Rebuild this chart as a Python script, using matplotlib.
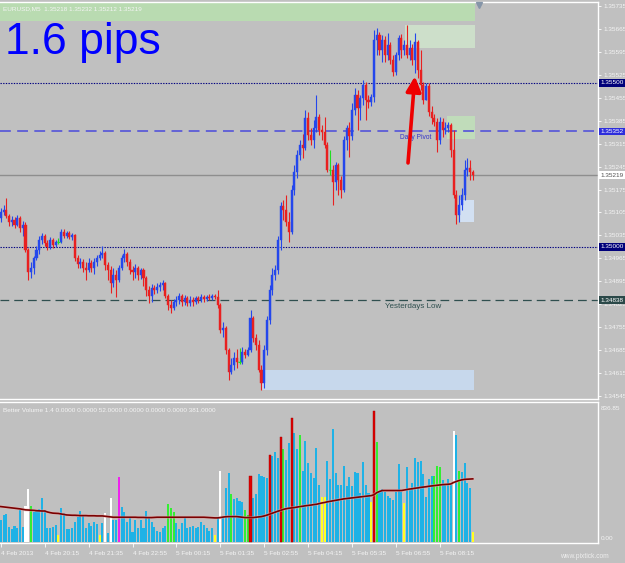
import numpy as np
import matplotlib
matplotlib.use("Agg")
import matplotlib.pyplot as plt
import matplotlib.transforms as mtransforms

# ---------------- data (prices in points = price * 1e5) ----------------
first_open_pts = 135088
close_pts = [135106,135112,135094,135076,135082,135067,135088,135058,135067,134990,
             134923,134936,134966,134990,135021,135033,135012,135000,135021,135006,
             135015,135015,135045,135033,135042,135030,135036,134966,134948,134954,
             134936,134929,134951,134936,134954,134966,134975,134981,134945,134929,
             134890,134914,134899,134936,134966,134978,134954,134929,134923,134936,
             134914,134929,134905,134868,134850,134875,134868,134878,134884,134890,
             134850,134823,134814,134832,134838,134850,134832,134844,134829,134838,
             134832,134844,134838,134847,134841,134847,134844,134850,134847,134823,
             134746,134753,134685,134618,134640,134661,134649,134649,134679,134670,
             134685,134783,134722,134701,134624,134585,134685,134777,134868,134914,
             134929,135021,135125,135112,135076,135045,135173,135228,135280,135311,
             135302,135393,135341,135326,135363,135396,135356,135350,135311,135234,
             135234,135198,135250,135204,135173,135326,135363,135338,135417,135463,
             135424,135454,135494,135448,135442,135457,135631,135646,135600,135631,
             135585,135616,135570,135533,135585,135637,135600,135616,135585,135607,
             135570,135625,135539,135494,135448,135491,135411,135393,135381,135326,
             135381,135356,135363,135372,135295,135158,135097,135128,135158,135234,
             135241,135228,135219]
high_pts = [135119,135128,135149,135100,135094,135091,135097,135094,135079,135076,
            134997,134954,134972,135003,135033,135042,135039,135021,135030,135027,
            135021,135027,135055,135055,135048,135048,135042,135039,134975,134966,
            134963,134954,134966,134960,134966,134975,134987,135003,134987,134954,
            134942,134936,134929,134945,134975,134994,134984,134963,134942,134948,
            134942,134936,134936,134911,134881,134887,134884,134890,134893,134899,
            134893,134856,134838,134841,134850,134859,134856,134853,134850,134850,
            134847,134850,134850,134856,134853,134853,134856,134856,134856,134868,
            134829,134771,134759,134692,134661,134679,134689,134692,134695,134689,
            134695,134807,134789,134734,134716,134640,134701,134789,134884,134936,
            134945,135033,135137,135143,135158,135106,135189,135250,135295,135326,
            135344,135417,135411,135363,135387,135463,135405,135372,135396,135320,
            135295,135250,135259,135256,135216,135338,135372,135381,135439,135485,
            135478,135463,135509,135503,135463,135466,135661,135668,135655,135646,
            135643,135652,135625,135585,135594,135646,135649,135631,135677,135631,
            135619,135652,135631,135600,135503,135500,135500,135430,135405,135393,
            135396,135393,135381,135381,135378,135356,135173,135158,135180,135265,
            135271,135265,135234]
low_pts = [135076,135097,135088,135064,135064,135058,135064,135045,135033,134984,
           134899,134905,134917,134960,134978,135009,135003,134990,134994,134997,
           135000,135009,135012,135027,135027,135024,135021,134957,134936,134936,
           134923,134899,134923,134923,134917,134942,134960,134966,134929,134899,
           134859,134878,134847,134893,134929,134954,134942,134917,134899,134905,
           134899,134902,134881,134850,134829,134832,134856,134859,134865,134868,
           134844,134807,134798,134807,134820,134826,134820,134823,134820,134820,
           134820,134826,134829,134832,134832,134835,134838,134838,134841,134814,
           134737,134725,134673,134594,134612,134624,134631,134643,134643,134661,
           134667,134679,134710,134685,134618,134563,134570,134670,134765,134853,
           134899,134917,134990,135082,135064,135015,135039,135158,135210,135265,
           135271,135296,135326,135311,135302,135350,135341,135326,135302,135228,
           135219,135128,135173,135158,135149,135167,135296,135274,135326,135402,
           135357,135387,135433,135387,135424,135430,135442,135585,135585,135564,
           135564,135570,135558,135521,135524,135570,135576,135585,135576,135570,
           135555,135530,135515,135478,135436,135448,135399,135375,135369,135289,
           135314,135335,135344,135350,135274,135149,135070,135076,135113,135143,
           135216,135204,135204]
volume = [132,162,168,91,75,95,81,193,91,217,
          319,217,183,193,197,268,193,85,85,91,
          101,41,203,173,75,75,81,122,148,189,
          156,81,112,95,116,108,41,112,173,51,
          268,132,132,392,209,177,122,152,55,132,
          81,132,81,189,142,122,91,65,61,81,
          95,227,203,177,112,75,112,142,81,87,
          95,81,91,122,101,81,67,85,41,142,
          430,152,329,416,290,258,268,248,238,193,
          162,400,264,290,412,400,392,386,528,522,
          548,508,639,562,497,599,751,660,562,650,
          430,613,481,420,386,568,345,274,270,493,
          380,684,420,345,345,461,339,392,339,426,
          420,298,487,345,294,238,796,609,304,319,
          304,278,264,254,304,473,304,233,453,315,
          359,508,487,493,412,274,380,400,400,461,
          453,376,345,380,345,674,650,432,426,477,
          355,325,55]
volume_ma = [213,211,209,207,205,203,201,199,196,193,
             192,191,190,188,187,186,186,180,176,173,
             172,171,168,165,162,161,160,160,159,158,
             158,158,157,157,157,156,156,156,154,152,
             150,148,148,148,148,148,148,148,148,148,
             147,147,147,146,146,146,147,148,148,148,
             148,148,148,148,148,148,148,148,148,148,
             148,148,148,148,148,147,146,145,144,144,
             146,149,151,152,152,152,152,150,148,146,
             146,146,146,148,150,152,156,161,167,173,
             179,185,190,196,200,203,205,207,210,213,
             215,218,220,222,225,227,231,235,238,242,
             245,248,251,254,257,260,262,264,266,268,
             270,272,274,276,278,280,285,298,305,311,
             311,311,311,311,311,311,311,314,317,320,
             322,325,327,330,332,334,337,339,341,343,
             345,347,348,349,351,360,366,372,376,379,
             380,381,382]
# volume bar classes: w=white, g=green, y=yellow, r=red, m=magenta (others blue)
volume_special = {9: "w", 10: "w", 11: "g", 21: "y", 36: "y", 38: "w", 40: "w",
                  43: "m", 61: "g", 62: "g", 63: "g", 78: "y", 80: "w", 84: "g",
                  89: "g", 90: "g", 91: "r", 98: "r", 102: "r", 103: "g", 106: "r",
                  109: "g", 117: "y", 118: "y", 135: "y", 136: "r", 137: "g",
                  147: "y", 158: "g", 159: "g", 160: "g", 165: "w", 167: "g", 172: "y"}

time_tick_bars = [0, 16, 32, 48, 64, 80, 96, 112, 128, 144, 160]
time_labels = ["4 Feb 2013", "4 Feb 20:15", "4 Feb 21:35", "4 Feb 22:55", "5 Feb 00:15",
               "5 Feb 01:35", "5 Feb 02:55", "5 Feb 04:15", "5 Feb 05:35", "5 Feb 06:55",
               "5 Feb 08:15"]
price_ticks = [1.35735, 1.35665, 1.35595, 1.35525, 1.35455, 1.35385, 1.35315, 1.35245,
               1.35175, 1.35105, 1.35035, 1.34965, 1.34895, 1.34825, 1.34755, 1.34685,
               1.34615, 1.34545]

level_prices = [1.35500, 1.35352, 1.35219, 1.35000, 1.34838]
level_labels = ["1.35500", "1.35352", "1.35219", "1.35000", "1.34838"]

# zones: (bar_start, bar_end, price_low, price_high)
zones = [(-1.0, 172.8, 1.35689, 1.35760),
         (147.3, 172.8, 1.35607, 1.35677),
         (162.6, 172.8, 1.35329, 1.35399),
         (95.2, 172.3, 1.34564, 1.34625),
         (167.3, 172.3, 1.35076, 1.35143)]
zone_colors = ["#B9DBB1", "#CDDFCA", "#C0DCBA", "#C7D8EC", "#D2E0F2"]

arrow_from = (148.4, 1.35256)
arrow_to = (150.9, 1.35520)

header_text = "EURUSD,M5  1.35218 1.35232 1.35212 1.35219"
vol_header = "Better Volume 1.4 0.0000 0.0000 52.0000 0.0000 0.0000 0.0000 381.0000"

# ---------------- derived arrays ----------------
c = np.array(close_pts) / 1e5
h = np.array(high_pts) / 1e5
l = np.array(low_pts) / 1e5
o = np.concatenate([[first_open_pts / 1e5], c[:-1]])
n = len(c)
xs = np.arange(n)
vol = np.array(volume, dtype=float)
vma = np.array(volume_ma, dtype=float)

BG = "#C0C0C0"
W, H = 625, 563
plt.rcParams["font.family"] = ["Liberation Sans", "DejaVu Sans"]
SMALL = 4.6

fig = plt.figure(figsize=(W / 100, H / 100), dpi=100, facecolor=BG)


def fr(x0, y0, x1, y1):
    return [x0 / W, 1 - y1 / H, (x1 - x0) / W, (y1 - y0) / H]


px_per_bar = 2.744
x_off = 0.8
xmin = -x_off / px_per_bar
xmax = (598 - x_off) / px_per_bar

# ---------------- price panel ----------------
ax = fig.add_axes(fr(0, 2, 598, 399))
ax.set_facecolor(BG)
p_per_px = 0.0000305
ax.set_xlim(xmin, xmax)
ax.set_ylim(1.35753 - 399 * p_per_px, 1.35753 - 2 * p_per_px)

for (x0, x1, y0, y1), col in zip(zones, zone_colors):
    ax.fill_between([x0, x1], y0, y1, color=col, lw=0, zorder=1)

ax.axhline(level_prices[0], color="#000080", ls=(0, (1.2, 1.2)), lw=0.8, zorder=2)
ax.axhline(level_prices[1], color="#5C5CD8", ls=(0, (6, 3.5)), lw=1.3, zorder=2)
ax.axhline(level_prices[2], color="#8E8E8E", lw=1.0, zorder=2)
ax.axhline(level_prices[3], color="#000080", ls=(0, (1.2, 1.2)), lw=0.8, zorder=2)
ax.axhline(level_prices[4], color="#2F4F4F", ls=(0, (7, 4)), lw=0.9, zorder=2)

ax.text(145.5, 1.35334, "Daily Pivot", color="#3535C8", fontsize=4.8, zorder=2.5,
        va="center", ha="left")
ax.text(140.0, 1.34817, "Yesterdays Low", color="#2F4F4F", fontsize=5.8, zorder=2.5,
        va="center", ha="left")

up_col, dn_col, dj_col = "#2447EC", "#E82020", "#22DD22"
colors = np.where(c > o, up_col, np.where(c < o, dn_col, dj_col))
ax.vlines(xs, l, h, colors=colors, lw=0.8, zorder=3)
body_lo = np.minimum(o, c)
body_h = np.abs(c - o)
ax.bar(xs, body_h, bottom=body_lo, width=0.75, color=colors, edgecolor=colors,
       lw=0.3, zorder=4)
dj = c == o
ax.hlines(c[dj], xs[dj] - 0.4, xs[dj] + 0.4, colors=dj_col, lw=0.8, zorder=4)

ax.annotate("", xy=arrow_to, xytext=arrow_from,
            arrowprops=dict(arrowstyle="-|>,head_length=0.9,head_width=0.45",
                            color="#EE0000", lw=2.6, shrinkA=0, shrinkB=0),
            zorder=6)

# right price axis
ax.yaxis.tick_right()
ax.set_yticks(price_ticks)
ax.set_yticklabels([f"{p:.5f}" for p in price_ticks])
ax.tick_params(axis="y", colors="white", labelcolor="#F4F4F4", labelsize=SMALL,
               length=2.5, width=0.6, pad=1.2)
ax.set_xticks([])
ax.spines["left"].set_visible(False)
for s in ["top", "right", "bottom"]:
    ax.spines[s].set_color("white")
    ax.spines[s].set_linewidth(1.0)

trans = mtransforms.blended_transform_factory(ax.transAxes, ax.transData)
box_styles = [("#00007A", "white"), ("#2E2EDC", "white"), ("white", "#505050"),
              ("#00007A", "white"), ("#2A4848", "white")]
for p, lab, (fc, tc) in zip(level_prices, level_labels, box_styles):
    ax.text(1.004, p, lab, transform=trans, fontsize=SMALL, color=tc, va="center",
            ha="left", clip_on=False, zorder=10,
            bbox=dict(boxstyle="square,pad=0.22", fc=fc, ec="none"))

ax.plot([(479 - x_off) / px_per_bar], [0.993], marker="v", color="#8595A8",
        ms=4, transform=mtransforms.blended_transform_factory(ax.transData, ax.transAxes),
        clip_on=False, zorder=8)

# ---------------- volume panel ----------------
axv = fig.add_axes(fr(0, 402, 598, 543))
axv.set_facecolor(BG)
axv.set_xlim(xmin, xmax)
v_per_px = 6.1
axv.set_ylim(-(543 - 541.5) * v_per_px, (541.5 - 402) * v_per_px)
cmap = {"w": "white", "g": "#33EE33", "y": "#FFFF22", "r": "#E00000", "m": "#EE22EE"}
vcols = [cmap.get(volume_special.get(i, "b"), "#1FB2E6") for i in range(n)]
axv.bar(xs, vol, width=0.75, color=vcols, lw=0, zorder=2)
red_idx = [i for i in range(n) if volume_special.get(i) == "r"]
axv.bar(xs[red_idx], vol[red_idx], width=0.8, color="#E00000", edgecolor="#A00000",
        lw=0.3, zorder=3)
axv.plot(xs, vma, color="#F0B0B0", lw=2.2, zorder=4, alpha=0.5)
axv.plot(xs, vma, color="#7A0000", lw=1.2, zorder=5)
axv.set_yticks([])
axv.set_xticks(time_tick_bars)
axv.set_xticklabels(time_labels)
axv.tick_params(axis="x", colors="white", labelcolor="#F4F4F4", labelsize=SMALL,
                length=3, width=0.6, pad=2.5)
for lab in axv.get_xticklabels():
    lab.set_ha("left")
axv.spines["left"].set_visible(False)
for s in ["top", "right", "bottom"]:
    axv.spines[s].set_color("white")
    axv.spines[s].set_linewidth(1.0)

# ---------------- texts ----------------
fig.text(5 / W, 1 - 54 / H, "1.6 pips", fontsize=32, color="#0000FF", va="baseline",
         ha="left")
fig.text(3 / W, 1 - 8.5 / H, header_text, fontsize=SMALL, color="#F4F4F4", va="center",
         ha="left")
fig.text(3 / W, 1 - 411 / H, vol_header, fontsize=SMALL, color="#F4F4F4", va="center",
         ha="left")
fig.text(601 / W, 1 - 408 / H, "836.85", fontsize=SMALL, color="#F4F4F4", va="center",
         ha="left")
fig.text(601 / W, 1 - 539 / H, "0.00", fontsize=SMALL, color="#F4F4F4", va="center",
         ha="left")
fig.text(560 / W, 1 - 556 / H, "www.pixtick.com", fontsize=4.8, color="#EEEEEE",
         va="center", ha="left")

fig.savefig("out.png", dpi=100, facecolor=BG)
